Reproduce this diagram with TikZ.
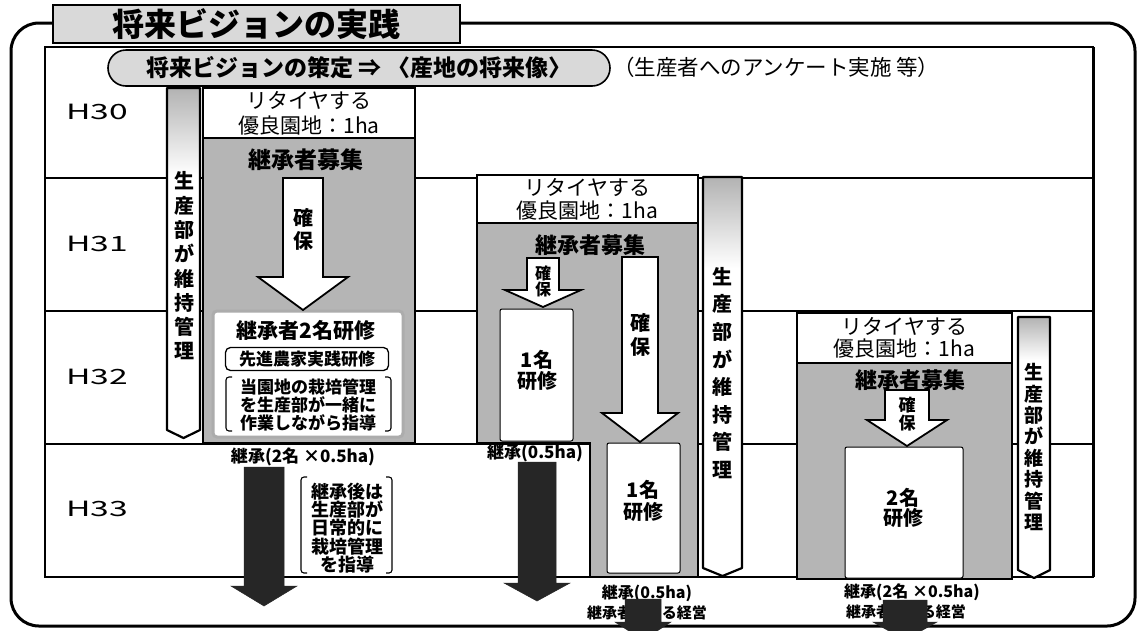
\documentclass[tikz,border=0pt]{standalone}
\usepackage{fontspec}
\usepackage{graphicx}
\setmainfont{Noto Sans CJK JP}
\newcommand\myarrow[7][]{\draw[#1] (#2-#4,#3) -- (#2+#4,#3) -- (#2+#4,#6) -- (#2+#5,#6) -- (#2,#7) -- (#2-#5,#6) -- (#2-#4,#6) -- cycle;}
\newcommand\mybar[5]{%
 \fill[white] (#1,#3) -- (#2,#3) -- (#2,#4) -- ({(#1+#2)/2},#4+8) -- (#1,#4) -- cycle;
 \shade[top color=gray!60, bottom color=white] (#1,#3) rectangle (#2,#5);
 \draw[line width=2.2pt, line join=round] (#1,#3) -- (#2,#3) -- (#2,#4) -- ({(#1+#2)/2},#4+8) -- (#1,#4) -- cycle;}
\begin{document}
\begin{tikzpicture}[x=1pt,y=-1pt,
 every node/.style={inner sep=0pt,outer sep=0pt},
 fs/.style={font=\fontsize{#1}{#1}\selectfont},
 bfs/.style={font=\fontsize{#1}{#1}\selectfont\bfseries},
 frame/.style={line width=3pt, rounded corners=28pt},
 grid/.style={line width=1.8pt},
 halftone/.style={fill=gray!58},
 lighttone/.style={fill=gray!30},
 darkarrow/.style={fill=black!85, draw=black!85, line width=0.5pt},
 whitearrow/.style={fill=white, draw=black, line width=1.8pt, line join=miter},
 whitebox/.style={fill=white, draw=black, line width=1pt, rounded corners=2pt},
 retire/.style={fill=white, draw=black, line width=2.2pt, align=center},
 panel/.style={halftone, draw=black, line width=2.2pt},
 bracket/.style={line width=1.1pt, rounded corners=3pt},
]
\useasboundingbox (0,0) rectangle (1139,630);
\fill[white] (0,0) rectangle (1139,630);

% outer frame
\draw[frame] (11,23) rectangle (1135,626);
% title
\node[draw=black, line width=1.8pt, lighttone, minimum width=407pt, minimum height=38pt, bfs=32] (title) at (256.5,24) {将来ビジョンの実践};

% table
\draw[grid] (45,47) rectangle (1093,577);
\draw[line width=3pt] (1093,47) -- (1093,577);
\foreach \y in {178,311,444} \draw[grid] (45,\y) -- (1093,\y);

% pill
\node[draw=black, line width=1.6pt, lighttone, rounded corners=18pt, minimum width=502pt, minimum height=36pt, bfs=23] (pill) at (359,68) {将来ビジョンの策定 ⇒ 〈産地の将来像〉};
\node[fs=21.5, anchor=west] (survey) at (613,67) {（生産者へのアンケート実施 等）};

% row labels
\node[fs=21] (h30) at (97,112) {\scalebox{1.6}[1]{H30}};
\node[fs=21] (h31) at (97,244) {\scalebox{1.6}[1]{H31}};
\node[fs=21] (h32) at (97,377) {\scalebox{1.6}[1]{H32}};
\node[fs=21] (h33) at (97,509) {\scalebox{1.6}[1]{H33}};

% ===== column 1 =====
\mybar{167}{200}{88}{430}{175}
\node[align=center, font=\fontsize{20}{24.3}\selectfont\bfseries] (bar1t) at (184,266) {生\\産\\部\\が\\維\\持\\管\\理};
\draw[panel] (203,138) rectangle (415,443);
\node[retire, minimum width=212pt, minimum height=50pt, anchor=north west, font=\fontsize{21}{25}\selectfont] (ret1) at (203,88) {リタイヤする\\優良園地：1ha};
\node[bfs=23] (rec1) at (306,160) {継承者募集};
\node[fill=white, draw=gray!65, line width=3pt, rounded corners=4pt, minimum width=190pt, minimum height=126pt] (train1) at (308,374) {};
\myarrow[whitearrow]{303}{178}{20}{45}{277}{310}
\node[align=center, font=\fontsize{20}{23}\selectfont\bfseries] (sec1) at (303,229) {確\\保};
\node[bfs=21] (train1t) at (306,331) {継承者2名研修};
\node[draw=black, line width=1.3pt, fill=white, rounded corners=5pt, minimum width=163pt, minimum height=23pt, bfs=17] (adv1) at (307,359) {先進農家実践研修};
\draw[bracket] (232,377) -- (226,377) -- (226,431) -- (232,431);
\draw[bracket] (385,377) -- (391,377) -- (391,431) -- (385,431);
\node[align=center, font=\fontsize{17}{18}\selectfont\bfseries] (guide1) at (308,405) {当園地の栽培管理\\を生産部が一緒に\\作業しながら指導};
\node[bfs=17] (inh1) at (303,457) {継承(2名 ×0.5ha)};
\myarrow[darkarrow]{264}{467}{20}{33}{586}{606}
\draw[bracket] (307,477) -- (301,477) -- (301,573) -- (307,573);
\draw[bracket] (386,477) -- (392,477) -- (392,573) -- (386,573);
\node[align=center, font=\fontsize{18}{18.3}\selectfont\bfseries] (after1) at (347,528) {継承後は\\生産部が\\日常的に\\栽培管理\\を指導};

% ===== column 2 =====
\draw[panel] (477,223) -- (698,223) -- (698,577) -- (590,577) -- (590,443) -- (477,443) -- cycle;
\node[retire, minimum width=221pt, minimum height=48pt, anchor=north west, font=\fontsize{21}{23}\selectfont] (ret2) at (477,175) {リタイヤする\\優良園地：1ha};
\node[bfs=22] (rec2) at (590,245) {継承者募集};
\node[whitebox, minimum width=73pt, minimum height=132pt] (tr2a) at (536.5,375) {};
\myarrow[whitearrow]{543}{258}{16}{38}{290}{307}
\node[align=center, font=\fontsize{16}{16}\selectfont\bfseries] (sec2a) at (543,281) {確\\保};
\node[align=center, font=\fontsize{20}{21}\selectfont\bfseries] (tr2at) at (537,370) {1名\\研修};
\node[whitebox, minimum width=73pt, minimum height=130pt] (tr2b) at (643.5,508) {};
\myarrow[whitearrow]{640}{257}{18}{38}{413}{442}
\node[align=center, font=\fontsize{20}{24}\selectfont\bfseries] (sec2b) at (640,335) {確\\保};
\node[align=center, font=\fontsize{20}{22}\selectfont\bfseries] (tr2bt) at (643,501) {1名\\研修};
\mybar{703}{742}{177}{568}{268}
\node[align=center, font=\fontsize{20}{27.6}\selectfont\bfseries] (bar2t) at (722,373) {生\\産\\部\\が\\維\\持\\管\\理};
\node[bfs=17] (inh2a) at (535,453) {継承(0.5ha)};
\myarrow[darkarrow]{537}{462}{19}{33}{583}{601}
\node[bfs=16] (inh2b) at (647,593) {継承(0.5ha)};
\node[bfs=15] (mgmt2) at (647,613) {継承者による経営};
\myarrow[darkarrow]{643}{599}{18}{28}{622}{640}

% ===== column 3 =====
\draw[panel] (797,363) rectangle (1012,579);
\node[retire, minimum width=215pt, minimum height=50pt, anchor=north west, font=\fontsize{21}{22}\selectfont] (ret3) at (797,313) {リタイヤする\\優良園地：1ha};
\node[bfs=22] (rec3) at (910,380) {継承者募集};
\node[whitebox, minimum width=118pt, minimum height=131pt] (tr3) at (904,512.5) {};
\myarrow[whitearrow]{907}{390}{22}{40}{420}{446}
\node[align=center, font=\fontsize{17}{18}\selectfont\bfseries] (sec3) at (907,414) {確\\保};
\node[align=center, font=\fontsize{20}{20}\selectfont\bfseries] (tr3t) at (903,508) {2名\\研修};
\mybar{1018}{1050}{317}{570}{360}
\node[align=center, font=\fontsize{19}{21.4}\selectfont\bfseries] (bar3t) at (1034,447) {生\\産\\部\\が\\維\\持\\管\\理};
\node[bfs=16] (inh3) at (912,592) {継承(2名 ×0.5ha)};
\node[bfs=15] (mgmt3) at (906,612) {継承者による経営};
\myarrow[darkarrow]{905}{600}{22}{32}{622}{640}
\end{tikzpicture}
\end{document}
